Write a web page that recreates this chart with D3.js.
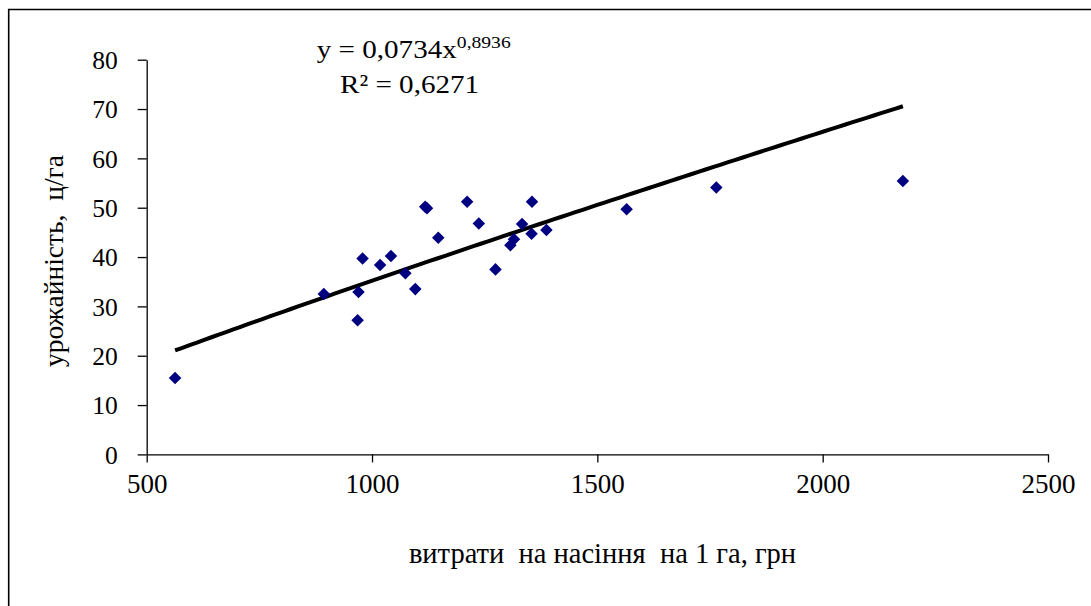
<!DOCTYPE html>
<html>
<head>
<meta charset="utf-8">
<script src="https://cdn.jsdelivr.net/npm/d3@7"></script>
<style>
  html, body { margin: 0; padding: 0; background: #fff; }
  svg { display: block; }
  text { font-family: "Liberation Serif", "DejaVu Serif", "Times New Roman", serif; fill: #000; }
</style>
</head>
<body>
<script>
// ---- data ----
const costs  = [563, 893, 968, 970, 979, 1018, 1042, 1074, 1096, 1118, 1122, 1147, 1211, 1237, 1274, 1307, 1315, 1333, 1354, 1355, 1387, 1565, 1764, 2178];
const yields = [15.5, 32.5, 27.2, 32.9, 39.7, 38.4, 40.2, 36.7, 33.5, 50.2, 49.9, 43.9, 51.2, 46.8, 37.5, 42.4, 43.6, 46.7, 44.7, 51.2, 45.5, 49.7, 54.1, 55.4];
const xTicks = [500, 1000, 1500, 2000, 2500];
const yTicks = [0, 10, 20, 30, 40, 50, 60, 70, 80];
const trendCoef = [0.0734, 0.8936]; // y = a * x^b
const rSquared = "0,6271";
const xTitle = "витрати  на насіння  на 1 га, грн";
const yTitle = "урожайність,  ц/га";

const W = 1091, H = 606;
const svg = d3.select("body").append("svg").attr("width", W).attr("height", H);

// frame (only top/left visible)
svg.append("path").attr("d", `M8.7,${H+5} V9.5 H${W+5}`)
  .attr("fill", "none").attr("stroke", "#000").attr("stroke-width", 1.6);

const x = d3.scaleLinear().domain([500, 2500]).range([146.7, 1048]);
const y = d3.scaleLinear().domain([0, 80]).range([454.4, 59.7]);

// axes
const xAxis = svg.append("g").attr("transform", `translate(0,${y(0)})`)
  .call(d3.axisBottom(x).tickValues(xTicks).tickSize(8).tickSizeOuter(0).tickFormat(d3.format("d")));
const yAxis = svg.append("g").attr("transform", `translate(${x(500)},0)`)
  .call(d3.axisLeft(y).tickValues(yTicks).tickSize(9).tickSizeOuter(0).tickFormat(d3.format("d")));
[xAxis, yAxis].forEach(g => {
  g.select(".domain").attr("stroke", "#000").attr("stroke-width", 1.3);
  g.selectAll(".tick line").attr("stroke", "#000").attr("stroke-width", 1.3);
});
xAxis.selectAll(".tick text").attr("font-size", 27).attr("font-family", "Liberation Serif")
  .attr("y", 19).attr("dy", "0.71em");
yAxis.selectAll(".tick text").attr("font-size", 25.5).attr("font-family", "Liberation Serif")
  .attr("x", -29).attr("dy", "0.34em");

// trend line
const xs = d3.extent(costs);
const trendPts = d3.range(0, 101).map(i => {
  const xv = xs[0] + (xs[1] - xs[0]) * i / 100;
  return [xv, trendCoef[0] * Math.pow(xv, trendCoef[1])];
});
svg.append("path").datum(trendPts)
  .attr("d", d3.line().x(d => x(d[0])).y(d => y(d[1])))
  .attr("fill", "none").attr("stroke", "#000").attr("stroke-width", 4);

// points
const pts = costs.map((c, i) => [c, yields[i]]);
svg.append("g").selectAll("path").data(pts).join("path")
  .attr("transform", d => `translate(${x(d[0])},${y(d[1])})`)
  .attr("d", d3.symbol(d3.symbolDiamond2 || d3.symbolDiamond, 100)())
  .attr("fill", "#000080");

// equation
const eq = svg.append("text").attr("transform", "translate(316.7,58.3) scale(1.12,1)").attr("font-size", 26);
eq.append("tspan").text("y = " + String(trendCoef[0]).replace(".", ",") + "x");
eq.append("tspan").attr("dy", -10).attr("font-size", 17.5).text(String(trendCoef[1]).replace(".", ","));
svg.append("text").attr("transform", "translate(340,92.7) scale(1.12,1)").attr("font-size", 26).text("R² = " + rSquared);

// titles
svg.append("text").attr("x", 602.5).attr("y", 563).attr("text-anchor", "middle")
  .attr("font-size", 28.5).style("white-space", "pre").text(xTitle);
svg.append("text").attr("transform", "translate(63,261) rotate(-90)").attr("text-anchor", "middle")
  .attr("font-size", 27.5).style("white-space", "pre").text(yTitle);
</script>
</body>
</html>
